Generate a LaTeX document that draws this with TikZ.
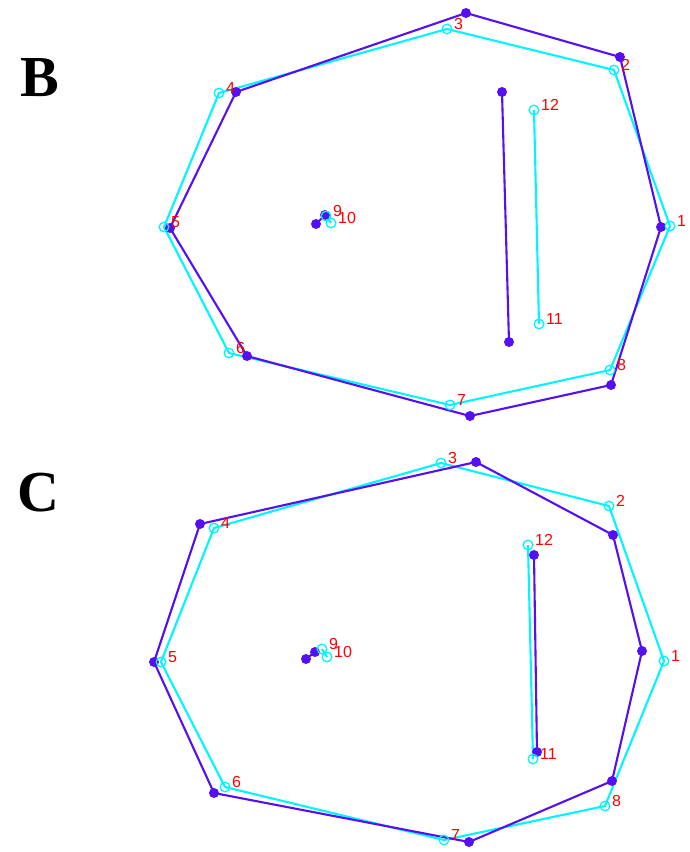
\documentclass[tikz,border=0pt]{standalone}
\usepackage{fontspec}
\setmainfont{Liberation Serif}
\newfontfamily\numfont{Liberation Sans}
\definecolor{fitpurple}{RGB}{85,15,240}
\definecolor{obscyan}{RGB}{0,245,255}
\tikzset{
  fitline/.style={fitpurple, line width=2.1pt, line join=round},
  obsline/.style={obscyan, line width=2.1pt, line join=round},
  fitdot/.style={fill=fitpurple},
  obsring/.style={draw=obscyan, line width=1.3pt},
  numlabel/.style={red, font=\numfont\fontsize{16}{16}\selectfont, anchor=base west, inner sep=0pt, xshift=7pt},
  panel/.style={font=\fontsize{58}{58}\selectfont\bfseries, inner sep=0pt}
}
\begin{document}
\begin{tikzpicture}[x=1pt,y=-1pt]
\useasboundingbox (0,0) rectangle (689,852);

% panel B
\node[panel] (tagB) at (40,78) {B};

\coordinate (pb1) at (661,227);
\coordinate (pb2) at (620,57);
\coordinate (pb3) at (466,13);
\coordinate (pb4) at (236,92);
\coordinate (pb5) at (170,228);
\coordinate (pb6) at (247,356);
\coordinate (pb7) at (470,416);
\coordinate (pb8) at (611,385);
\coordinate (pb9) at (325,215);
\coordinate (pb10) at (316,224);
\coordinate (pb11) at (509,342);
\coordinate (pb12) at (502,92);

\coordinate (cb1) at (670,226);
\coordinate (cb2) at (614,70);
\coordinate (cb3) at (447,29);
\coordinate (cb4) at (219,93);
\coordinate (cb5) at (164,227);
\coordinate (cb6) at (229,353);
\coordinate (cb7) at (450,405);
\coordinate (cb8) at (610,370);
\coordinate (cb9) at (326,216);
\coordinate (cb10) at (331,223);
\coordinate (cb11) at (539,324);
\coordinate (cb12) at (534,110);

\draw[obsline] (cb1) -- (cb2) -- (cb3) -- (cb4) -- (cb5) -- (cb6) -- (cb7) -- (cb8) -- cycle;
\draw[obsline] (cb9) -- (cb10);
\draw[obsline] (cb11) -- (cb12);
\draw[fitline] (pb1) -- (pb2) -- (pb3) -- (pb4) -- (pb5) -- (pb6) -- (pb7) -- (pb8) -- cycle;
\draw[fitline] (pb9) -- (pb10);
\draw[fitline] (pb11) -- (pb12);

\fill[fitdot] (pb1) circle (5) (pb2) circle (5) (pb3) circle (5) (pb4) circle (5)
  (pb5) circle (5) (pb6) circle (5) (pb7) circle (5) (pb8) circle (5)
  (pb9) circle (5) (pb10) circle (5) (pb11) circle (5) (pb12) circle (5);
\draw[obsring] (cb1) circle (4.8) (cb2) circle (4.8) (cb3) circle (4.8) (cb4) circle (4.8)
  (cb5) circle (4.8) (cb6) circle (4.8) (cb7) circle (4.8) (cb8) circle (4.8)
  (cb9) circle (4.8) (cb10) circle (4.8) (cb11) circle (4.8) (cb12) circle (4.8);

\node[numlabel] (lb1) at (cb1) {1};
\node[numlabel] (lb2) at (cb2) {2};
\node[numlabel] (lb3) at (cb3) {3};
\node[numlabel] (lb4) at (cb4) {4};
\node[numlabel] (lb5) at (cb5) {5};
\node[numlabel] (lb6) at (cb6) {6};
\node[numlabel] (lb7) at (cb7) {7};
\node[numlabel] (lb8) at (cb8) {8};
\node[numlabel] (lb9) at (cb9) {9};
\node[numlabel] (lb10) at (cb10) {10};
\node[numlabel] (lb11) at (cb11) {11};
\node[numlabel] (lb12) at (cb12) {12};

% panel C
\node[panel] (tagC) at (38,493) {C};

\coordinate (pc1) at (642,651);
\coordinate (pc2) at (613,535);
\coordinate (pc3) at (476,462);
\coordinate (pc4) at (200,524);
\coordinate (pc5) at (154,662);
\coordinate (pc6) at (214,793);
\coordinate (pc7) at (469,842);
\coordinate (pc8) at (612,781);
\coordinate (pc9) at (315,652);
\coordinate (pc10) at (306,659);
\coordinate (pc11) at (537,752);
\coordinate (pc12) at (534,555);

\coordinate (cc1) at (664,661);
\coordinate (cc2) at (609,506);
\coordinate (cc3) at (441,463);
\coordinate (cc4) at (214,528);
\coordinate (cc5) at (161,662);
\coordinate (cc6) at (225,787);
\coordinate (cc7) at (444,840);
\coordinate (cc8) at (605,806);
\coordinate (cc9) at (322,649);
\coordinate (cc10) at (327,657);
\coordinate (cc11) at (533,759);
\coordinate (cc12) at (528,545);

\draw[obsline] (cc1) -- (cc2) -- (cc3) -- (cc4) -- (cc5) -- (cc6) -- (cc7) -- (cc8) -- cycle;
\draw[obsline] (cc9) -- (cc10);
\draw[obsline] (cc11) -- (cc12);
\draw[fitline] (pc1) -- (pc2) -- (pc3) -- (pc4) -- (pc5) -- (pc6) -- (pc7) -- (pc8) -- cycle;
\draw[fitline] (pc9) -- (pc10);
\draw[fitline] (pc11) -- (pc12);

\fill[fitdot] (pc1) circle (5) (pc2) circle (5) (pc3) circle (5) (pc4) circle (5)
  (pc5) circle (5) (pc6) circle (5) (pc7) circle (5) (pc8) circle (5)
  (pc9) circle (5) (pc10) circle (5) (pc11) circle (5) (pc12) circle (5);
\draw[obsring] (cc1) circle (4.8) (cc2) circle (4.8) (cc3) circle (4.8) (cc4) circle (4.8)
  (cc5) circle (4.8) (cc6) circle (4.8) (cc7) circle (4.8) (cc8) circle (4.8)
  (cc9) circle (4.8) (cc10) circle (4.8) (cc11) circle (4.8) (cc12) circle (4.8);

\node[numlabel] (lc1) at (cc1) {1};
\node[numlabel] (lc2) at (cc2) {2};
\node[numlabel] (lc3) at (cc3) {3};
\node[numlabel] (lc4) at (cc4) {4};
\node[numlabel] (lc5) at (cc5) {5};
\node[numlabel] (lc6) at (cc6) {6};
\node[numlabel] (lc7) at (cc7) {7};
\node[numlabel] (lc8) at (cc8) {8};
\node[numlabel] (lc9) at (cc9) {9};
\node[numlabel] (lc10) at (cc10) {10};
\node[numlabel] (lc11) at (cc11) {11};
\node[numlabel] (lc12) at (cc12) {12};
\end{tikzpicture}
\end{document}
